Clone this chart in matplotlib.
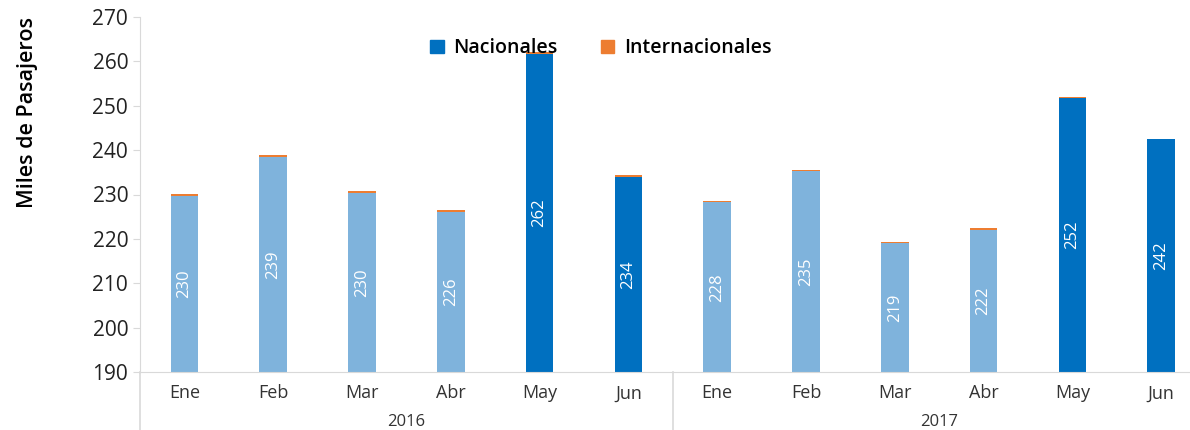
import matplotlib.pyplot as plt
import matplotlib.transforms as mtransforms
from matplotlib.patches import Patch

# datos (miles de pasajeros)
meses = ["Ene", "Feb", "Mar", "Abr", "May", "Jun", "Ene", "Feb", "Mar", "Abr", "May", "Jun"]
anios = ["2016", "2017"]
nacionales = [229.7, 238.5, 230.3, 226.0, 261.6, 234.0, 228.2, 235.3, 219.0, 222.1, 251.7, 242.4]
internacionales = [0.4, 0.4, 0.5, 0.4, 0.4, 0.4, 0.3, 0.3, 0.4, 0.3, 0.3, 0.1]
etiquetas = ["230", "239", "230", "226", "262", "234", "228", "235", "219", "222", "252", "242"]

claro = "#7FB3DC"
oscuro = "#0070C0"
naranja = "#ED7D31"
colores = [claro, claro, claro, claro, oscuro, oscuro, claro, claro, claro, claro, oscuro, oscuro]

plt.rcParams['font.family'] = ['Open Sans', 'DejaVu Sans']

fig = plt.figure(figsize=(11.9, 4.3), dpi=100)
ax = fig.add_axes([140 / 1190, 58 / 430, 1050 / 1190, 355 / 430])

x = list(range(len(meses)))
ancho = 0.31
ax.bar(x, [v - 190 for v in nacionales], bottom=190, width=ancho, color=colores, zorder=2)
ax.bar(x, internacionales, bottom=nacionales, width=ancho, color=naranja, zorder=2)

# etiquetas dentro de las barras
for i, v in enumerate(nacionales):
    ax.text(i, (190 + v) / 2, etiquetas[i], rotation=90, ha="center", va="center",
            color="white", fontsize=12)

ax.set_ylim(190, 270)
ax.set_xlim(-0.5, -0.5 + 1050 / 88.8)
ax.set_yticks(range(190, 271, 10))
ax.tick_params(axis="y", labelsize=15, labelcolor="#222222", length=5, color="#D9D9D9")
ax.set_xticks([])
ax.set_ylabel("Miles de Pasajeros", fontsize=15.5, fontweight="semibold")
ax.yaxis.set_label_coords(-0.097, 0.73)

for lado in ["top", "right"]:
    ax.spines[lado].set_visible(False)
ax.spines["left"].set_color("#D9D9D9")
ax.spines["left"].set_bounds(190, 270)
ax.spines["bottom"].set_color("#D9D9D9")

# ejes de categorías (mes / año)
trans = mtransforms.blended_transform_factory(ax.transData, ax.transAxes)
for i, m in enumerate(meses):
    ax.text(i, -0.06, m, transform=trans, ha="center", va="center", fontsize=13, color="#333333")
for k, a in enumerate(anios):
    ax.text(2.5 + 6 * k, -0.14, a, transform=trans, ha="center", va="center", fontsize=12, color="#333333")
for xs in [-0.5, 5.5]:
    ax.plot([xs, xs], [0, -0.17], transform=trans, color="#D9D9D9", lw=1.2, clip_on=False)

handles = [Patch(color=oscuro, label="Nacionales"), Patch(color=naranja, label="Internacionales")]
leg = fig.legend(handles=handles, loc="center", bbox_to_anchor=(0.505, 0.888), ncol=2,
                 frameon=False, fontsize=14, handlelength=0.7, handleheight=0.7,
                 columnspacing=2.2, handletextpad=0.5)
for t in leg.get_texts():
    t.set_fontweight("semibold")

fig.savefig("out.png", dpi=100)
